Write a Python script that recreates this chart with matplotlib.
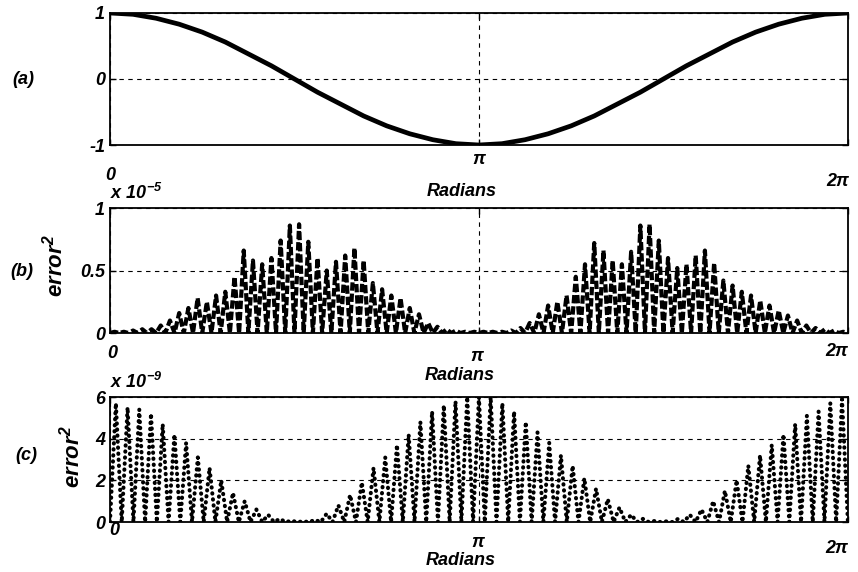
import numpy as np
import matplotlib.pyplot as plt
from matplotlib.transforms import ScaledTranslation

plt.rcParams['font.family'] = 'Liberation Sans'
plt.rcParams['font.weight'] = 'bold'
plt.rcParams['font.style'] = 'italic'
plt.rcParams['axes.labelweight'] = 'bold'
plt.rcParams['mathtext.fontset'] = 'custom'
plt.rcParams['mathtext.rm'] = 'Liberation Sans:bold:italic'
plt.rcParams['mathtext.it'] = 'Liberation Sans:bold:italic'
plt.rcParams['mathtext.bf'] = 'Liberation Sans:bold:italic'

# (a) cosine read every pi/16 from 0 to 2pi
cos_vals = [1.0, 0.98, 0.92, 0.83, 0.71, 0.56, 0.38, 0.20, 0.0, -0.20, -0.38, -0.56, -0.71, -0.83, -0.92, -0.98, -1.0,
            -0.98, -0.92, -0.83, -0.71, -0.56, -0.38, -0.20, 0.0, 0.20, 0.38, 0.56, 0.71, 0.83, 0.92, 0.98, 1.0]

# (b) peak of each ripple, units of 1e-5 (80 ripples over 0..2pi)
err_b_peaks = [0.01, 0.01, 0.02, 0.03, 0.03, 0.06, 0.10, 0.16, 0.20, 0.28,
               0.25, 0.30, 0.33, 0.45, 0.66, 0.58, 0.55, 0.60, 0.74, 0.86,
               0.87, 0.73, 0.60, 0.50, 0.57, 0.62, 0.68, 0.58, 0.40, 0.35,
               0.30, 0.28, 0.20, 0.15, 0.08, 0.05, 0.03, 0.02, 0.01, 0.01,
               0.01, 0.01, 0.01, 0.02, 0.04, 0.08, 0.15, 0.22, 0.25, 0.30,
               0.45, 0.55, 0.72, 0.66, 0.58, 0.55, 0.65, 0.86, 0.87, 0.74,
               0.60, 0.52, 0.55, 0.62, 0.66, 0.56, 0.42, 0.38, 0.33, 0.30,
               0.26, 0.22, 0.18, 0.14, 0.10, 0.06, 0.04, 0.03, 0.02, 0.01]

# (c) peak of each ripple, units of 1e-9 (63 ripples over 0..2pi)
err_c_peaks = [5.7, 5.5, 5.4, 5.2, 4.7, 4.2, 3.8, 3.1, 2.6, 2.0,
               1.4, 1.0, 0.6, 0.35, 0.15, 0.06, 0.03, 0.1, 0.4, 0.8,
               1.3, 1.9, 2.6, 3.1, 3.7, 4.2, 4.8, 5.3, 5.6, 5.8,
               6.0, 6.0, 6.0, 5.7, 5.3, 4.8, 4.3, 3.8, 3.2, 2.7,
               2.1, 1.6, 1.1, 0.7, 0.35, 0.15, 0.05, 0.03, 0.15, 0.35,
               0.6, 1.0, 1.5, 2.0, 2.7, 3.2, 3.7, 4.2, 4.7, 5.1,
               5.3, 5.7, 5.9]

xtick_vals = [0, np.pi, 2 * np.pi]
xtick_labels = ['0', 'π', '2π']


def ripple(peaks):
    # zigzag: zero at each ripple edge, peak in the middle
    n = len(peaks)
    x = np.linspace(0, 2 * np.pi, 2 * n + 1)
    y = np.zeros(2 * n + 1)
    y[1::2] = peaks
    return x, y


fig = plt.figure(figsize=(8.58, 5.72), dpi=100)
ax_a = fig.add_axes([0.1282, 0.7465, 0.860, 0.2308])
ax_b = fig.add_axes([0.1282, 0.4178, 0.860, 0.2185])
ax_c = fig.add_axes([0.1282, 0.0874, 0.860, 0.2185])

x_cos = np.linspace(0, 2 * np.pi, len(cos_vals))
ax_a.plot(x_cos, cos_vals, color='black', lw=3.4, solid_capstyle='round')
ax_a.set_ylim(-1, 1)
ax_a.set_yticks([-1, 0, 1])
ax_a.set_yticklabels(['-1', '0', '1'])

xb, yb = ripple(err_b_peaks)
ax_b.plot(xb, yb, color='black', lw=3.0, linestyle=(0, (2.0, 0.7)))
ax_b.set_ylim(0, 1)
ax_b.set_yticks([0, 0.5, 1])
ax_b.set_yticklabels(['0', '0.5', '1'])

xc, yc = ripple(err_c_peaks)
ax_c.plot(xc, yc, color='black', lw=2.9, linestyle=(0, (0.1, 1.4)), dash_capstyle='round')
ax_c.set_ylim(0, 6)
ax_c.set_yticks([0, 2, 4, 6])
ax_c.set_yticklabels(['0', '2', '4', '6'])

# top of each x tick label below the axis (px), horizontal shift (px)
label_offsets = {
    ax_a: [(22, 0), (6, 0), (28, -10)],
    ax_b: [(12, 2), (15, -2), (10, -11)],
    ax_c: [(0, 4), (12, -1), (18, -11)],
}
radians_pos = {ax_a: (0.477, -0.29), ax_b: (0.474, -0.27), ax_c: (0.475, -0.24)}

for ax in (ax_a, ax_b, ax_c):
    ax.set_xlim(0, 2 * np.pi)
    ax.set_xticks(xtick_vals)
    ax.set_xticklabels(xtick_labels)
    ax.tick_params(axis='both', direction='in', length=4, width=1, labelsize=13,
                   top=True, right=True)
    ax.tick_params(axis='x', pad=0)
    ax.tick_params(axis='y', pad=3.5)
    ax.grid(True, color='black', lw=0.8, linestyle=(0, (4, 4)))
    for s in ax.spines.values():
        s.set_linewidth(1.3)
    for lab, (dy, dx) in zip(ax.get_xticklabels(), label_offsets[ax]):
        lab.set_transform(lab.get_transform() + ScaledTranslation(dx / 100, -dy / 100, fig.dpi_scale_trans))
    ax.set_xlabel('Radians', fontsize=13, fontweight='bold')
    ax.xaxis.set_label_coords(*radians_pos[ax])

ax_b.set_ylabel('error$^2$', fontsize=16, fontweight='bold')
ax_b.yaxis.set_label_coords(-0.058, 0.54)
ax_c.set_ylabel('error$^2$', fontsize=16, fontweight='bold')
ax_c.yaxis.set_label_coords(-0.034, 0.52)

ax_b.text(0.0, 1.04, 'x 10$^{-5}$', transform=ax_b.transAxes, fontsize=13, va='bottom', ha='left')
ax_c.text(0.0, 1.04, 'x 10$^{-9}$', transform=ax_c.transAxes, fontsize=13, va='bottom', ha='left')

fig.text(23 / 858, 1 - 79 / 572, '(a)', fontsize=13, ha='center', va='center')
fig.text(22 / 858, 1 - 272 / 572, '(b)', fontsize=13, ha='center', va='center')
fig.text(26 / 858, 1 - 455 / 572, '(c)', fontsize=13, ha='center', va='center')

fig.savefig('out.png', dpi=100)
